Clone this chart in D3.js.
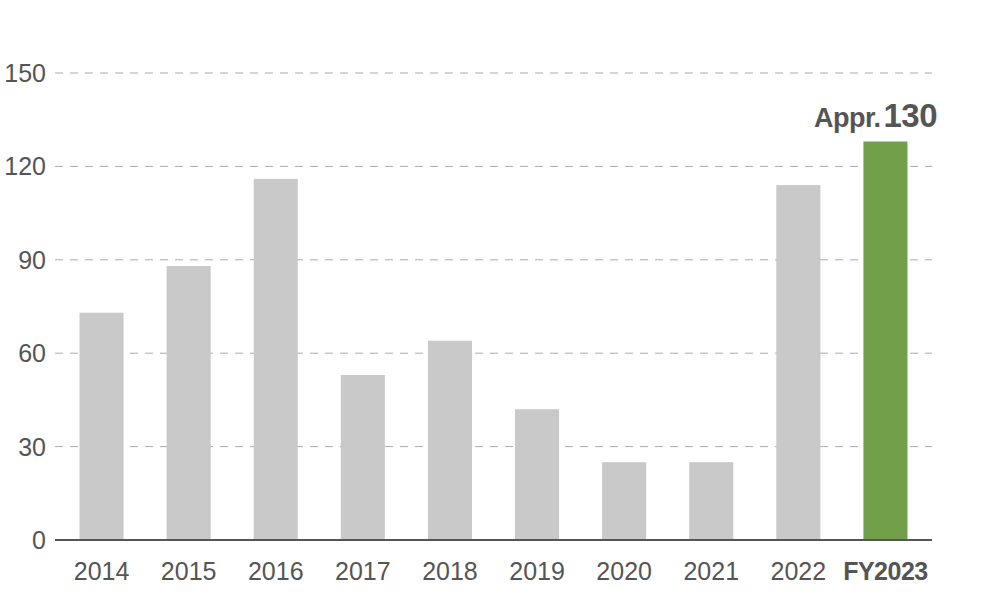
<!DOCTYPE html>
<html>
<head>
<meta charset="utf-8">
<script src="https://cdn.jsdelivr.net/npm/d3@7"></script>
<style>
    html, body { margin: 0; padding: 0; background: #fff; }
    svg { display: block; font-family: "Liberation Sans", Arial, Helvetica, sans-serif; }
</style>
</head>
<body>
<svg id="chart" width="1000" height="600"></svg>
<script>
// Chart data
const years = ['2014', '2015', '2016', '2017', '2018', '2019', '2020', '2021', '2022', 'FY2023'];
const values = [73, 88, 116, 53, 64, 42, 25, 25, 114, 128];
const yTicks = [0, 30, 60, 90, 120, 150];
const highlightYear = 'FY2023';
const calloutPrefix = 'Appr.';
const calloutValue = '130';

const svg = d3.select('#chart');

// Scales
const xScale = d3.scaleBand()
    .domain(years)
    .range([58, 929])
    .paddingInner(0.494)
    .paddingOuter(0.247);

const yScale = d3.scaleLinear()
    .domain([0, 150])
    .range([540, 73]);

const textColor = '#555';

// Dashed grid lines
svg.append('g')
    .selectAll('line')
    .data(yTicks.filter(d => d > 0))
    .join('line')
    .attr('x1', 55)
    .attr('x2', 932)
    .attr('y1', d => yScale(d))
    .attr('y2', d => yScale(d))
    .attr('stroke', '#aaa')
    .attr('stroke-width', 1)
    .attr('stroke-dasharray', '8,7');

// Bars
svg.append('g')
    .selectAll('rect')
    .data(years)
    .join('rect')
    .attr('x', d => xScale(d))
    .attr('width', xScale.bandwidth())
    .attr('y', (d, i) => yScale(values[i]))
    .attr('height', (d, i) => yScale(0) - yScale(values[i]))
    .attr('fill', d => d === highlightYear ? '#72a04a' : '#c9c9c9');

// Baseline
svg.append('line')
    .attr('x1', 55)
    .attr('x2', 932)
    .attr('y1', yScale(0))
    .attr('y2', yScale(0))
    .attr('stroke', '#555')
    .attr('stroke-width', 2);

// Y tick labels
svg.append('g')
    .selectAll('text')
    .data(yTicks)
    .join('text')
    .attr('x', 46)
    .attr('y', d => yScale(d))
    .attr('dy', '0.36em')
    .attr('text-anchor', 'end')
    .attr('fill', textColor)
    .style('font-size', '25px')
    .text(d => d);

// X tick labels
svg.append('g')
    .selectAll('text')
    .data(years)
    .join('text')
    .attr('x', d => xScale(d) + xScale.bandwidth() / 2)
    .attr('y', 580)
    .attr('text-anchor', 'middle')
    .attr('fill', textColor)
    .style('font-size', '25px')
    .style('font-weight', d => d === highlightYear ? 'bold' : 'normal')
    .style('letter-spacing', d => d === highlightYear ? '-0.5px' : '0px')
    .text(d => d);

// Callout above the highlighted bar
const callout = svg.append('text')
    .attr('x', xScale(highlightYear) + xScale.bandwidth() / 2 - 10)
    .attr('y', 127)
    .attr('text-anchor', 'middle')
    .attr('fill', textColor)
    .style('font-weight', 'bold');

callout.append('tspan')
    .style('font-size', '27px')
    .style('letter-spacing', '-0.5px')
    .text(calloutPrefix);

callout.append('tspan')
    .attr('dx', 3)
    .style('font-size', '33px')
    .style('letter-spacing', '-0.5px')
    .text(calloutValue);
</script>
</body>
</html>
